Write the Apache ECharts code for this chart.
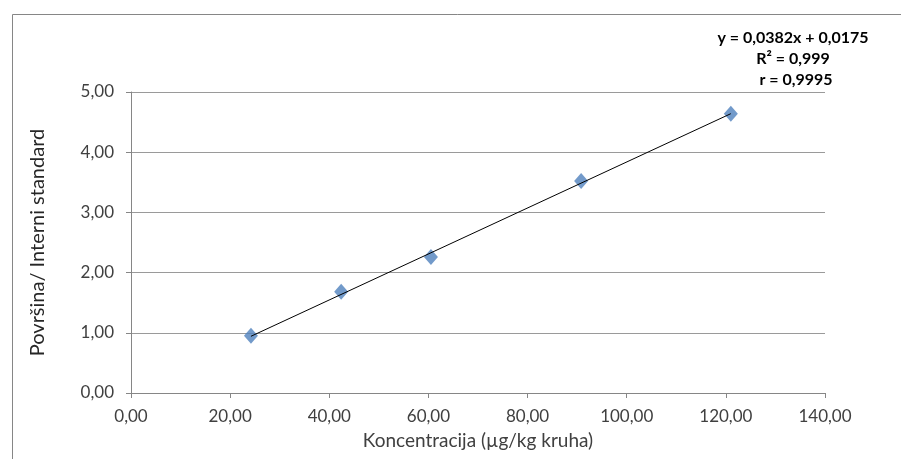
<!DOCTYPE html>
<html>
<head>
<meta charset="utf-8">
<script src="https://cdn.jsdelivr.net/npm/echarts@6/dist/echarts.min.js"></script>
<style>html,body{margin:0;padding:0;background:#fff}#c{width:901px;height:459px}</style>
</head>
<body>
<div id="c"></div>
<script>
// Data
var concentration = [24.2, 42.4, 60.5, 90.8, 121.0];
var ratio = [0.95, 1.68, 2.26, 3.52, 4.64];
var trendX = [24.2, 121.0];
var trendY = [0.942, 4.64];
var equationLines = ['y = 0,0382x + 0,0175', 'R\u00B2 = 0,999', 'r = 0,9995'];
var xTitle = 'Koncentracija (\u00B5g/kg kruha)';
var yTitle = 'Površina/ Interni standard';

function fmt(v){ return v.toFixed(2).replace('.', ','); }

var chart = echarts.init(document.getElementById('c'));
var tickFont = 'Lato, "Open Sans", sans-serif';
chart.setOption({
  animation: false,
  grid: { left: 131, right: 76, top: 92, bottom: 66 },
  xAxis: {
    type: 'value', min: 0, max: 140, interval: 20,
    name: xTitle, nameLocation: 'middle', nameGap: 38,
    nameTextStyle: { fontFamily: tickFont, fontSize: 19, color: '#404040' },
    axisLine: { show: true, lineStyle: { color: '#868686', width: 1 } },
    axisTick: { show: true, length: 5, lineStyle: { color: '#868686' } },
    axisLabel: { formatter: fmt, fontFamily: tickFont, fontSize: 17, color: '#404040', margin: 15 },
    splitLine: { show: false }
  },
  yAxis: {
    type: 'value', min: 0, max: 5, interval: 1,
    name: yTitle, nameLocation: 'middle', nameGap: 83, nameRotate: 90,
    nameTextStyle: { fontFamily: tickFont, fontSize: 20, color: '#262626' },
    axisLine: { show: true, lineStyle: { color: '#868686', width: 1 } },
    axisTick: { show: true, length: 5, lineStyle: { color: '#868686' } },
    axisLabel: { formatter: fmt, fontFamily: tickFont, fontSize: 17, color: '#404040', margin: 17 },
    splitLine: { show: true, lineStyle: { color: '#9a9a9a', width: 1 } }
  },
  series: [
    {
      type: 'scatter',
      data: concentration.map(function(x, i){ return [x, ratio[i]]; }),
      symbol: 'diamond', symbolSize: [14, 16],
      itemStyle: { color: '#4F81BD' },
      z: 2
    },
    {
      type: 'line',
      data: trendX.map(function(x, i){ return [x, trendY[i]]; }),
      symbol: 'none',
      lineStyle: { color: '#000', width: 1 },
      z: 3
    }
  ],
  graphic: [
    { type: 'rect', left: 10, top: 12, shape: { width: 900, height: 460 }, style: { fill: 'none', stroke: '#868686', lineWidth: 1 }, silent: true },
    { type: 'text', style: { x: 793, y: 38, text: equationLines[0], font: 'bold 16px Lato, sans-serif', fill: '#000', align: 'center', verticalAlign: 'middle' } },
    { type: 'text', style: { x: 793, y: 59, text: equationLines[1], font: 'bold 16px Lato, sans-serif', fill: '#000', align: 'center', verticalAlign: 'middle' } },
    { type: 'text', style: { x: 796, y: 80, text: equationLines[2], font: 'bold 16px Lato, sans-serif', fill: '#000', align: 'center', verticalAlign: 'middle' } }
  ]
});
</script>
</body>
</html>
